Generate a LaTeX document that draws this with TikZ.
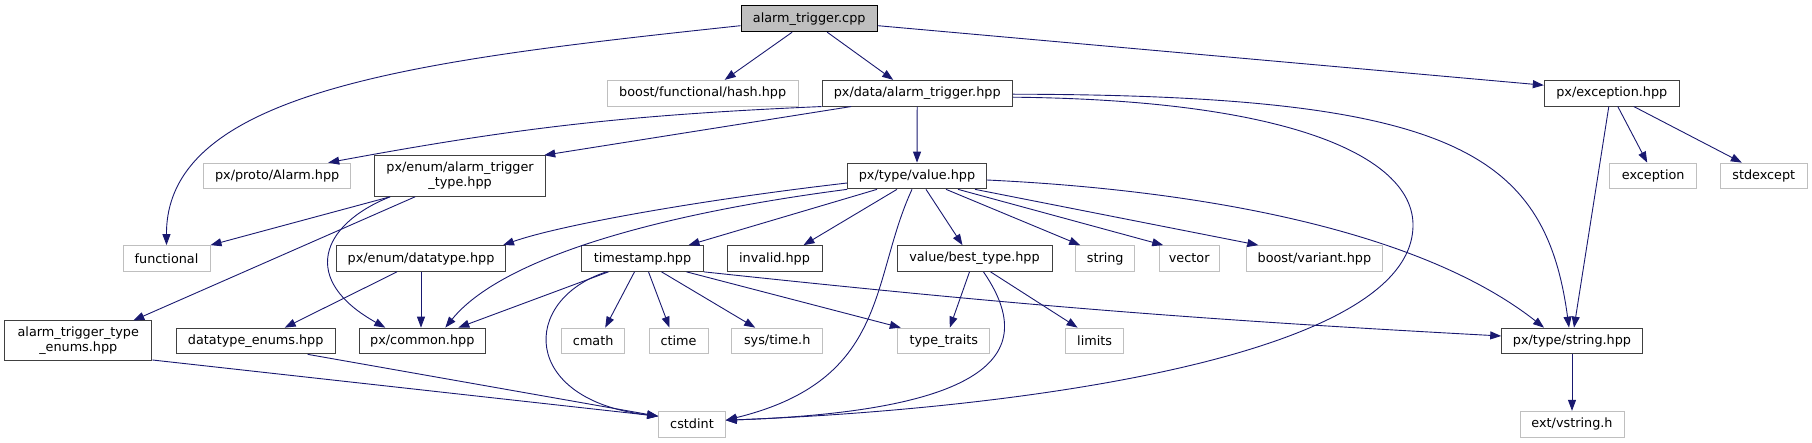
\documentclass[tikz,border=0pt]{standalone}
\usepackage{fontspec}
\setmainfont{DejaVu Sans}
\usetikzlibrary{
    arrows.meta
}

\definecolor{edgeblue}{HTML}{191970}
\definecolor{filegray}{HTML}{BFBFBF}
\definecolor{filedark}{HTML}{404040}

\begin{document}
\begin{tikzpicture}[
    x=1pt, y=-1pt,
    font=\fontsize{12.8pt}{15pt}\selectfont,
    box/.style={
        rectangle,
        inner sep=0pt,
        minimum height=25.7pt,
        align=center,
        line width=1pt
    },
    file/.style={box, draw=filedark},
    sysfile/.style={box, draw=filegray},
    root/.style={box, draw=black, fill=filegray},
    arrow/.style={-{Triangle[length=11pt,width=8pt]}, draw=edgeblue, line width=0.9pt}
]

% Set bounding box to the size of the graph
\useasboundingbox (0,0) rectangle (1812,443);

% ================= ROW 0 =================
\node[root, minimum width=136.4pt, minimum height=26pt] (cpp) at (809.2,18.7) {alarm\_trigger.cpp};

% ================= ROW 1 =================
\node[sysfile, minimum width=191.3pt] (hash) at (702.7,93.2) {boost/functional/hash.hpp};
\node[file, minimum width=190.4pt] (data) at (917.2,93.2) {px/data/alarm\_trigger.hpp};
\node[file, minimum width=135pt] (exc) at (1611.8,93.2) {px/exception.hpp};

% ================= ROW 2 =================
\node[sysfile, minimum width=147pt] (alarm) at (277.2,176) {px/proto/Alarm.hpp};
\node[file, minimum width=171.2pt, minimum height=40.6pt] (atype) at (460.1,176) {px/enum/alarm\_trigger\\\_type.hpp};
\node[file, minimum width=138.6pt] (value) at (917,176) {px/type/value.hpp};
\node[sysfile, minimum width=87pt] (exception) at (1653.2,176) {exception};
\node[sysfile, minimum width=87pt] (stdexcept) at (1763.8,176) {stdexcept};

% ================= ROW 3 =================
\node[sysfile, minimum width=87pt] (functional) at (166.5,258.5) {functional};
\node[file, minimum width=169.4pt] (datatype) at (421,258.5) {px/enum/datatype.hpp};
\node[file, minimum width=121.6pt] (timestamp) at (642.5,258.5) {timestamp.hpp};
\node[file, minimum width=95pt] (invalid) at (774.5,258.5) {invalid.hpp};
\node[file, minimum width=155pt] (besttype) at (974.5,258.5) {value/best\_type.hpp};
\node[sysfile, minimum width=59pt] (string) at (1105.2,258.5) {string};
\node[sysfile, minimum width=60pt] (vector) at (1189.2,258.5) {vector};
\node[sysfile, minimum width=136pt] (variant) at (1314.4,258.5) {boost/variant.hpp};

% ================= ROW 4 =================
\node[file, minimum width=147.3pt, minimum height=40pt] (enums) at (78.3,341) {alarm\_trigger\_type\\\_enums.hpp};
\node[file, minimum width=158.7pt] (dtenums) at (255.7,341) {datatype\_enums.hpp};
\node[file, minimum width=126.6pt] (common) at (422.3,341) {px/common.hpp};
\node[sysfile, minimum width=62.6pt] (cmath) at (593.2,341) {cmath};
\node[sysfile, minimum width=59pt] (ctime) at (678.5,341) {ctime};
\node[sysfile, minimum width=91pt] (systime) at (777.2,341) {sys/time.h};
\node[sysfile, minimum width=92.2pt] (typetraits) at (943.8,341) {type\_traits};
\node[sysfile, minimum width=58.5pt] (limits) at (1094.6,341) {limits};
\node[file, minimum width=140.6pt] (pxstring) at (1572,341) {px/type/string.hpp};

% ================= ROW 5 =================
\node[sysfile, minimum width=66.6pt] (cstdint) at (692,424.2) {cstdint};
\node[sysfile, minimum width=104pt] (vstring) at (1572,424.2) {ext/vstring.h};

% ================= ARROWS =================
% from alarm_trigger.cpp
\draw[arrow] ([yshift=-7pt]cpp.west) .. controls (420,60) and (166,90) .. (functional.north);
\draw[arrow] ([xshift=-17pt]cpp.south) -- ([xshift=22pt]hash.north);
\draw[arrow] ([xshift=18pt]cpp.south) -- ([xshift=-24pt]data.north);
\draw[arrow] ([yshift=-7pt]cpp.east) -- ([yshift=8pt]exc.west);

% from px/data/alarm_trigger.hpp
\draw[arrow] (data.south west) to[bend right=4] ([xshift=51pt]alarm.north);
\draw[arrow] ([xshift=-66pt]data.south) -- ([xshift=-2pt]atype.north east);
\draw[arrow] (data.south) -- (value.north);
\draw[arrow] ([yshift=-4pt]data.east) .. controls (1300,100) and (1413,160) .. (1413,225)
    .. controls (1413,360) and (1000,410) .. ([yshift=4pt]cstdint.east);
\draw[arrow] ([yshift=-1pt]data.east) .. controls (1450,95) and (1545,150) .. ([xshift=-3pt]pxstring.north);

% from px/enum/alarm_trigger_type.hpp
\draw[arrow] ([xshift=-70pt]atype.south) -- (functional.north east);
\draw[arrow] ([xshift=-45pt]atype.south) -- ([xshift=55pt]enums.north);
\draw[arrow] ([xshift=-70pt]atype.south) .. controls (320,225) and (300,280) .. ([xshift=-37pt]common.north);

% from px/type/value.hpp
\draw[arrow] ([yshift=-7pt]value.west) .. controls (700,200) and (560,225) .. ([xshift=82pt]datatype.north);
\draw[arrow] (value.south west) .. controls (650,215) and (500,260) .. ([xshift=23pt]common.north);
\draw[arrow] ([xshift=-40pt]value.south) -- ([xshift=46pt]timestamp.north);
\draw[arrow] ([xshift=-20pt]value.south) -- ([xshift=29pt]invalid.north);
\draw[arrow] ([xshift=-5pt]value.south) .. controls (870,280) and (890,380) .. ([yshift=4pt]cstdint.east);
\draw[arrow] ([xshift=9pt]value.south) -- ([xshift=-12pt]besttype.north);
\draw[arrow] ([xshift=29pt]value.south) -- ([xshift=-25pt]string.north);
\draw[arrow] ([xshift=41pt]value.south) -- ([xshift=-26pt]vector.north);
\draw[arrow] ([xshift=58pt]value.south) -- ([xshift=-56pt]variant.north);
\draw[arrow] ([yshift=-4pt]value.east) .. controls (1200,190) and (1420,230) .. ([xshift=-28pt]pxstring.north);

% from px/exception.hpp
\draw[arrow] ([xshift=-3pt]exc.south) -- ([xshift=2pt]pxstring.north);
\draw[arrow] ([xshift=6pt]exc.south) -- ([xshift=-6pt]exception.north);
\draw[arrow] ([xshift=22pt]exc.south) -- ([xshift=-22pt]stdexcept.north);

% from px/enum/datatype.hpp
\draw[arrow] ([xshift=-24pt]datatype.south) -- ([xshift=29pt]dtenums.north);
\draw[arrow] (datatype.south) -- (datatype.south |- common.north);

% from timestamp.hpp
\draw[arrow] ([xshift=-34pt]timestamp.south) -- ([xshift=36pt]common.north);
\draw[arrow] ([xshift=-36pt]timestamp.south) .. controls (520,300) and (520,400) .. ([yshift=8pt]cstdint.west);
\draw[arrow] ([xshift=-8pt]timestamp.south) -- ([xshift=12pt]cmath.north);
\draw[arrow] ([xshift=6pt]timestamp.south) -- ([xshift=-9pt]ctime.north);
\draw[arrow] ([xshift=19pt]timestamp.south) -- ([xshift=-22pt]systime.north);
\draw[arrow] ([xshift=44pt]timestamp.south) -- ([xshift=-43pt]typetraits.north);
\draw[arrow] (timestamp.south east) to[bend right=1.5] ([yshift=5pt]pxstring.west);

% from value/best_type.hpp
\draw[arrow] ([xshift=-5pt]besttype.south) -- ([xshift=6pt]typetraits.north);
\draw[arrow] ([xshift=16pt]besttype.south) -- ([xshift=-17pt]limits.north);
\draw[arrow] ([xshift=9pt]besttype.south) .. controls (1030,340) and (1020,410) .. ([yshift=4pt]cstdint.east);

% from px/type/string.hpp
\draw[arrow] (pxstring.south) -- (vstring.north);

% enum headers
\draw[arrow] ([yshift=-19pt]enums.east) -- ([yshift=8pt]cstdint.west);
\draw[arrow] ([xshift=52pt]dtenums.south) -- ([yshift=8pt]cstdint.west);

\end{tikzpicture}
\end{document}
